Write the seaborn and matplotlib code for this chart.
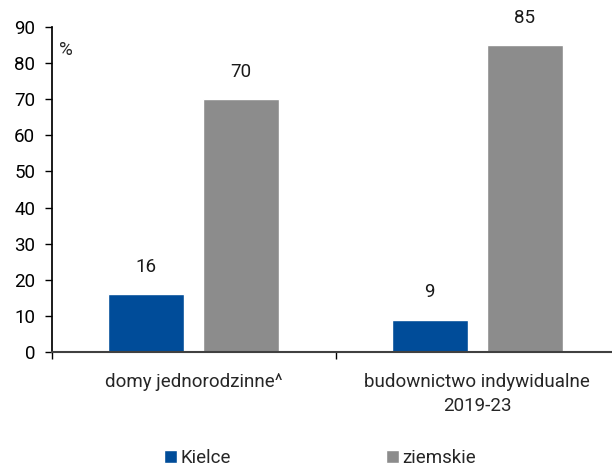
import pandas as pd
import matplotlib.pyplot as plt
import seaborn as sns
from matplotlib.patches import Patch

# Datos
categorias = ['domy jednorodzinne^', 'budownictwo indywidualne\n2019-23']
series = ['Kielce', 'ziemskie']
kielce = [16, 9]
ziemskie = [70, 85]
colores = ['#004C99', '#8C8C8C']

df = pd.DataFrame({
    'kategoria': categorias * 2,
    'seria': [series[0]] * 2 + [series[1]] * 2,
    'wartosc': kielce + ziemskie,
})

sns.set_theme(style="white")
plt.rcParams['font.family'] = ['Roboto', 'DejaVu Sans']

fig = plt.figure(figsize=(6.12, 4.68), dpi=100)
ax = fig.add_axes([52 / 612, 116 / 468, 560 / 612, 325 / 468])

sns.barplot(data=df, x='kategoria', y='wartosc', hue='seria',
            palette=colores, width=0.67, gap=0.2, ax=ax, legend=False,
            saturation=1)

for cont in ax.containers:
    ax.bar_label(cont, fmt='%.0f', padding=13, fontsize=13.5, color='#1a1a1a')

ax.set_ylim(0, 90)
ax.set_xlim(-0.5, 1.475)
ax.set_yticks(range(0, 91, 10))
ax.tick_params(axis='y', labelsize=13.5, length=5, width=1, direction='out',
               left=True, colors='black', pad=7)
ax.set_xticks([0, 1])
ax.set_xticklabels(categorias, linespacing=1.45)
ax.tick_params(axis='x', which='major', length=0, labelsize=13.5, pad=15)
ax.set_xticks([-0.5, 0.5], minor=True)
ax.tick_params(axis='x', which='minor', length=5, width=1, direction='out',
               bottom=True, color='black')
ax.set_xlabel('')
ax.set_ylabel('')

for s in ['top', 'right']:
    ax.spines[s].set_visible(False)
ax.spines['left'].set_color('black')
ax.spines['bottom'].set_color('#404040')
ax.spines['bottom'].set_linewidth(1.5)

ax.text(0.012, 0.93, '%', transform=ax.transAxes, fontsize=13.5, va='center')

uchwyty = [Patch(facecolor=c, label=s) for c, s in zip(colores, series)]
fig.legend(handles=uchwyty, loc='center', bbox_to_anchor=(0.523, 0.021),
           ncol=2, frameon=False, fontsize=13.5, handlelength=0.7,
           handleheight=0.7, handletextpad=0.15, columnspacing=8.3)

fig.savefig('out.png', dpi=100)
